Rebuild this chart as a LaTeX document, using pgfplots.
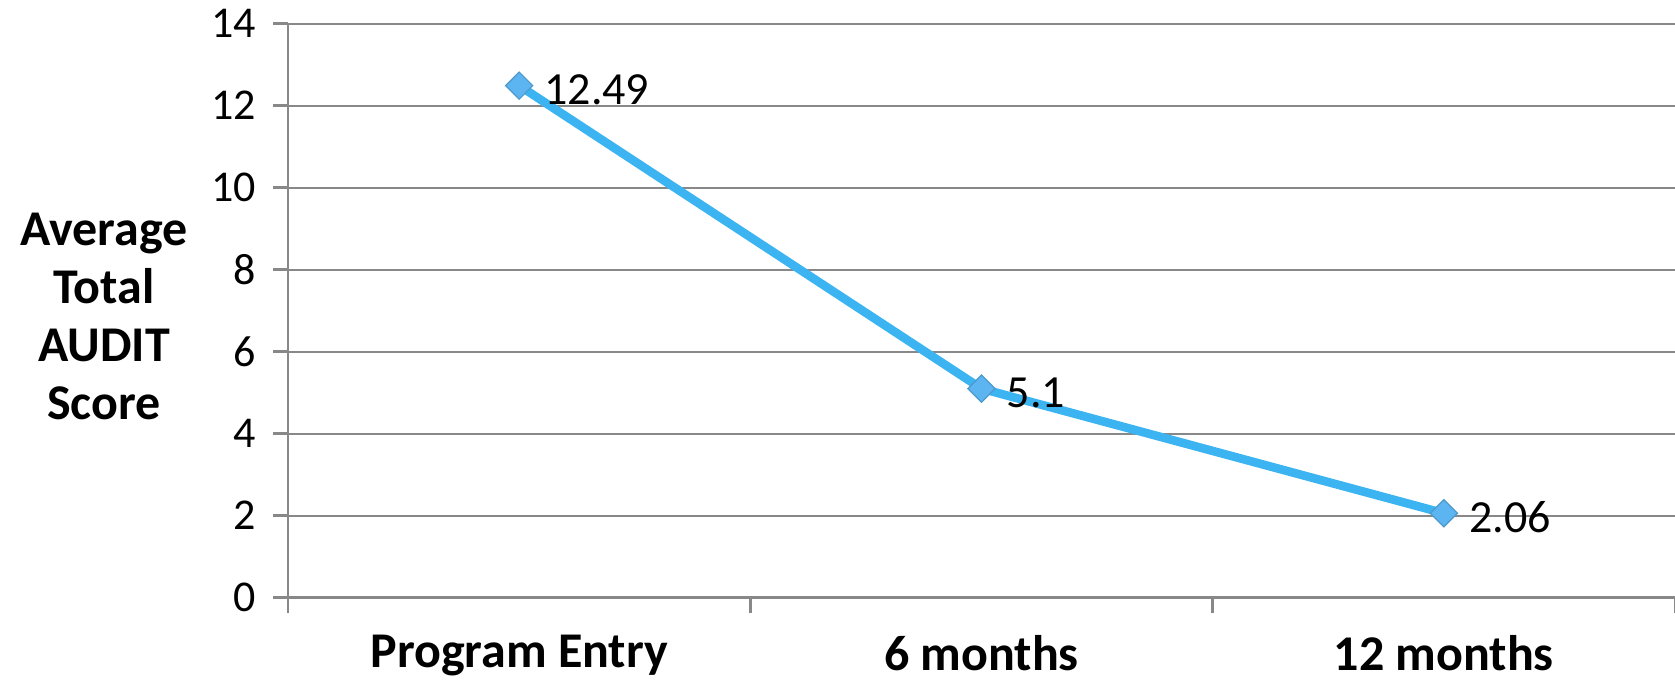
\documentclass[border=0pt]{standalone}
\usepackage{fontspec}
\setmainfont{Carlito}
\usepackage{pgfplots}
\pgfplotsset{compat=1.18}
\definecolor{lineblue}{RGB}{60,180,242}
\definecolor{markblue}{RGB}{92,180,240}
\definecolor{axgray}{RGB}{136,136,136}
\begin{document}
\begin{tikzpicture}[x=1pt,y=1pt]
\path[use as bounding box] (-144,-45) rectangle (693.5,298.85);
\begin{axis}[
  scale only axis, width=693.5pt, height=287pt,
  xmin=-0.5, xmax=2.5, ymin=0, ymax=14,
  axis x line=bottom, axis y line=left,
  axis line style={axgray, line width=1.3pt, -},
  tick align=outside, major tick length=7.5pt,
  tick style={axgray, line width=1.3pt},
  ytick={0,2,...,14},
  ymajorgrids, major grid style={axgray, line width=1pt},
  xtick={-0.5,0.5,1.5,2.5}, xticklabels={},
  extra x ticks={0,1,2},
  extra x tick labels={Program Entry, 6 months, 12 months},
  extra x tick style={major tick length=0pt, grid=none,
    xticklabel style={font=\fontsize{25}{29}\selectfont\bfseries, yshift=-17.5pt, inner sep=1pt}},
  /pgf/number format/assume math mode=true,
  yticklabel style={font=\fontsize{22}{22}\selectfont, xshift=-5pt},
  ylabel={Average\\Total\\AUDIT\\Score},
  ylabel style={rotate=-90, align=center, font=\fontsize{25}{29}\selectfont\bfseries,
    at={(axis description cs:0,0.49)}, anchor=center, xshift=-92pt},
  clip=false,
]
\addplot[color=lineblue, line width=4.3pt, mark=square*, mark size=4.8pt,
  mark options={rotate=45, fill=markblue, draw=markblue!85!black, line width=0.6pt},
  nodes near coords, point meta=explicit symbolic,
  nodes near coords style={anchor=west, xshift=9pt, yshift=-2pt, text=black,
    font=\fontsize{23}{23}\selectfont}]
  coordinates {(0,12.49)[12.49] (1,5.1)[5.1] (2,2.06)[2.06]};
\end{axis}
\end{tikzpicture}
\end{document}
